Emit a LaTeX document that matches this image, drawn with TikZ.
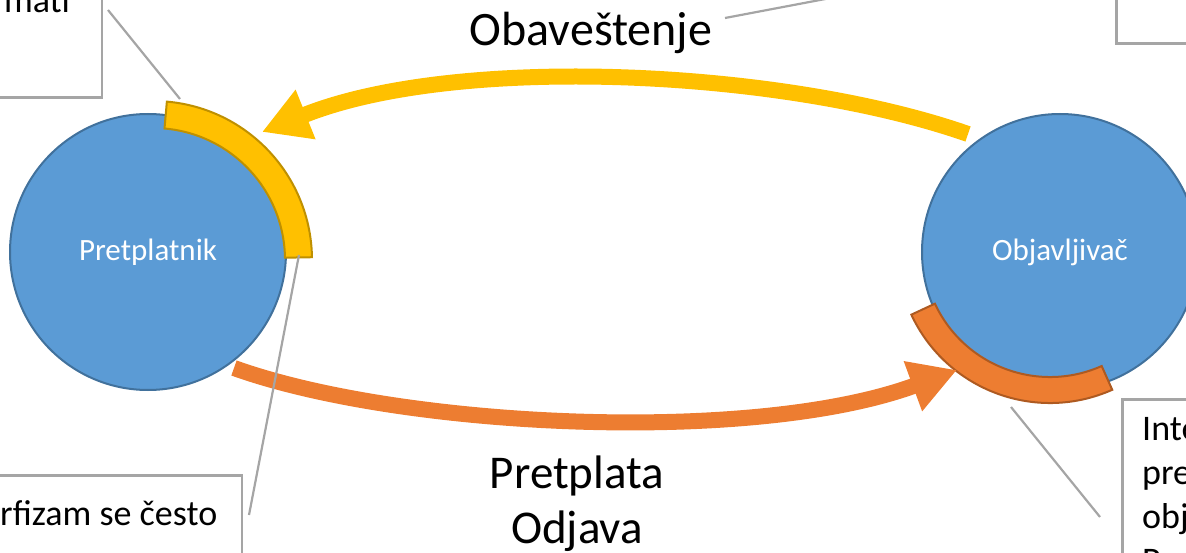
\documentclass[tikz,border=0pt]{standalone}
\usepackage{fontspec}
\setmainfont{Carlito}
\usetikzlibrary{arrows.meta,calc}
\definecolor{cblue}{HTML}{5B9BD5}
\definecolor{cblued}{HTML}{41719C}
\definecolor{cyellow}{HTML}{FFC000}
\definecolor{cyellowd}{HTML}{BF9000}
\definecolor{corange}{HTML}{ED7D31}
\definecolor{corangedk}{HTML}{AE5A21}
\definecolor{cgray}{HTML}{A5A5A5}
\begin{document}
\begin{tikzpicture}[x=1pt,y=-1pt,
  party/.style={circle, draw=cblued, fill=cblue, line width=2pt, minimum size=276pt, inner sep=0pt, text=white, font=\fontsize{31}{37}\selectfont},
  bigtext/.style={font=\fontsize{47}{56}\selectfont, inner sep=0pt, anchor=base},
  calltext/.style={font=\fontsize{36}{44}\selectfont, inner sep=0pt},
  callbox/.style={draw=cgray, fill=white, line width=2.5pt, inner sep=0pt},
  leader/.style={draw=cgray, line width=2.2pt},
  yarrow/.style={draw=cyellow, line width=16pt, -{Triangle[length=47pt,width=50pt]}},
  oarrow/.style={draw=corange, line width=16pt, -{Triangle[length=47pt,width=50pt]}},
  yband/.style={draw=cyellowd, fill=cyellow, line width=2pt},
  oband/.style={draw=corangedk, fill=corange, line width=2pt}
]
\useasboundingbox (0,0) rectangle (1186,553);
\clip (0,0) rectangle (1186,553);

% callout boxes
\node[callbox, minimum width=250pt, minimum height=200pt, anchor=south east] (boxTL) at (103,99) {};
\node[callbox, minimum width=350pt, minimum height=200pt, anchor=north east] (boxBL) at (243,474) {};
\node[callbox, minimum width=200pt, minimum height=150pt, anchor=south west] (boxTR) at (1115,45) {};
\node[callbox, minimum width=200pt, minimum height=250pt, anchor=north west] (boxBR) at (1121,398) {};

\node[calltext, anchor=base east] (tTL) at (70,13) {rmati};
\node[calltext, anchor=base west] (tBL) at (0,525) {rfizam se često};
\node[calltext, anchor=base west] (tBR1) at (1142,440) {Inte};
\node[calltext, anchor=base west] (tBR2) at (1142,484) {pre};
\node[calltext, anchor=base west] (tBR3) at (1142,528) {obj};
\node[calltext, anchor=base west] (tBR4) at (1142,572) {P};

% parties
\node[party] (sub) at (148,252) {Pretplatnik};
\node[party] (pub) at (1060,252) {Objavljivač};

% block arcs
\coordinate (cy) at (153,260);
\coordinate (co) at (1050,250);
\path[yband] ($(cy)+(-85:159)$) arc[start angle=-85, end angle=-1, radius=159]
  -- ($(cy)+(-1:132)$) arc[start angle=-1, end angle=-85, radius=132] -- cycle;
\path[oband] ($(co)+(66:153)$) arc[start angle=66, end angle=155, radius=153]
  -- ($(co)+(155:127)$) arc[start angle=155, end angle=66, radius=127] -- cycle;

% arrows
\coordinate (yS) at (968,134);
\coordinate (yT) at (262,132);
\coordinate (oS) at (234,368);
\coordinate (oT) at (957,370);
\draw[yarrow] (yS) .. controls (782,69) and (456,54) .. (yT);
\draw[oarrow] (oS) .. controls (401,428) and (753,445) .. (oT);

% labels
\node[bigtext, font=\fontsize{48}{56}\selectfont] (lnotify) at (591,46) {Obaveštenje};
\node[bigtext] (lsub) at (577,488) {Pretplata};
\node[bigtext] (lunsub) at (577,543) {Odjava};

% leader lines
\coordinate (l1a) at (108,10);  \coordinate (l1b) at (180,99);
\coordinate (l2a) at (299,255); \coordinate (l2b) at (249,515);
\coordinate (l3a) at (1011,407); \coordinate (l3b) at (1100,517);
\coordinate (l4a) at (725,18);  \coordinate (l4b) at (915,-18);
\draw[leader] (l1a) -- (l1b);
\draw[leader] (l2a) -- (l2b);
\draw[leader] (l3a) -- (l3b);
\draw[leader] (l4a) -- (l4b);
\end{tikzpicture}
\end{document}
